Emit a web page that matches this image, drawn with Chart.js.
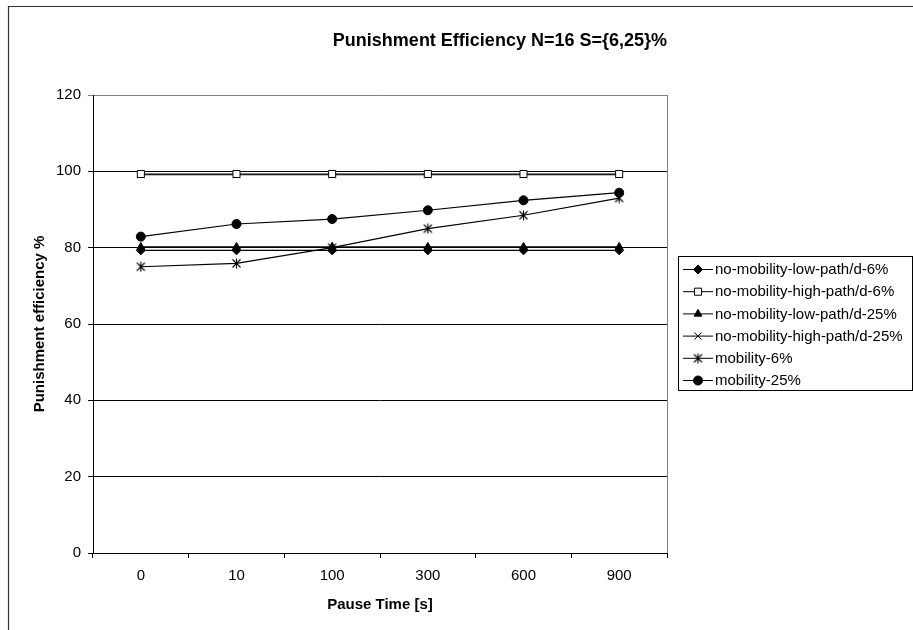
<!DOCTYPE html>
<html>
<head>
<meta charset="utf-8">
<title>Punishment Efficiency</title>
<script src="https://cdn.jsdelivr.net/npm/chart.js@4.4.0/dist/chart.umd.min.js"></script>
<style>
  html, body { margin: 0; padding: 0; background: #fff; overflow: hidden; }
  #wrap { width: 913px; height: 630px; }
</style>
</head>
<body>
<div id="wrap"><canvas id="effChart" width="913" height="630"></canvas></div>
<script>
var pauseTimes = ["0", "10", "100", "300", "600", "900"];
var yTicks = [0, 20, 40, 60, 80, 100, 120];

var lowPath6 = [79.3, 79.3, 79.3, 79.3, 79.3, 79.3];
var highPath6 = [99.3, 99.3, 99.3, 99.3, 99.3, 99.3];
var lowPath25 = [80.2, 80.2, 80.2, 80.2, 80.2, 80.2];
var highPath25 = [99.1, 99.1, 99.1, 99.1, 99.1, 99.1];
var mobility6 = [75, 75.9, 80, 85, 88.5, 93];
var mobility25 = [82.9, 86.2, 87.5, 89.8, 92.4, 94.4];

var FONT = "'Liberation Sans', Arial, sans-serif";

// excel style asterisk: an X with a vertical bar
function asterisk() {
    var cv = document.createElement("canvas");
    cv.width = 11; cv.height = 11;
    var g = cv.getContext("2d");
    g.strokeStyle = "#000";
    g.lineWidth = 1.1;
    g.beginPath();
    g.moveTo(1.5, 1.5); g.lineTo(9.5, 9.5);
    g.moveTo(9.5, 1.5); g.lineTo(1.5, 9.5);
    g.moveTo(5.5, 0.5); g.lineTo(5.5, 10.5);
    g.stroke();
    return cv;
}

function series(label, data, style, radius, fill) {
    return {
        label: label,
        data: data,
        borderColor: "#000",
        borderWidth: 1.2,
        backgroundColor: fill,
        pointStyle: style,
        pointRadius: radius,
        pointHoverRadius: radius,
        pointBackgroundColor: fill,
        pointBorderColor: "#000",
        pointBorderWidth: 1,
        tension: 0,
        fill: false
    };
}

var datasets = [
    series("no-mobility-low-path/d-6%", lowPath6, "rectRot", 4.5, "#000"),
    series("no-mobility-high-path/d-6%", highPath6, "rect", 5, "#fff"),
    series("no-mobility-low-path/d-25%", lowPath25, "triangle", 4.5, "#000"),
    series("no-mobility-high-path/d-25%", highPath25, "crossRot", 5, "#000"),
    series("mobility-6%", mobility6, asterisk(), 5, "#000"),
    series("mobility-25%", mobility25, "circle", 4.5, "#000")
];

// outer frame, right border of the plot, legend box
var decorations = {
    id: "decorations",
    beforeDraw: function (chart) {
        var c = chart.ctx;
        c.save();
        c.strokeStyle = "#333";
        c.lineWidth = 1.2;
        c.beginPath();
        c.moveTo(8.5, 640);
        c.lineTo(8.5, 6.5);
        c.lineTo(920, 6.5);
        c.stroke();
        c.restore();
    },
    afterDraw: function (chart) {
        var c = chart.ctx, a = chart.chartArea;
        c.save();
        c.strokeStyle = "#808080";
        c.lineWidth = 1;
        c.beginPath();
        c.moveTo(Math.round(a.right) + 0.5, a.top);
        c.lineTo(Math.round(a.right) + 0.5, a.bottom);
        c.stroke();

        var bx = 678.5, by = 256.5, bw = 234, bh = 134;
        c.fillStyle = "#fff";
        c.fillRect(bx, by, bw, bh);
        c.strokeStyle = "#000";
        c.strokeRect(bx, by, bw, bh);
        c.font = "15px " + FONT;
        c.textBaseline = "middle";
        c.textAlign = "left";
        chart.data.datasets.forEach(function (ds, i) {
            var y = 269 + i * 22.2;
            c.strokeStyle = "#000";
            c.lineWidth = 1;
            c.beginPath();
            c.moveTo(683, y + 0.5);
            c.lineTo(713, y + 0.5);
            c.stroke();
            c.fillStyle = ds.pointBackgroundColor;
            c.strokeStyle = "#000";
            Chart.helpers.drawPoint(c, {
                pointStyle: ds.pointStyle,
                radius: ds.pointRadius,
                rotation: 0,
                borderWidth: 1
            }, 698, y + 0.5);
            c.fillStyle = "#000";
            c.fillText(ds.label, 715, y + 1);
        });
        c.restore();
    }
};

var ctx = document.getElementById("effChart").getContext("2d");
new Chart(ctx, {
    type: "line",
    data: { labels: pauseTimes, datasets: datasets },
    options: {
        responsive: false,
        animation: false,
        layout: { padding: { left: 0, right: 246, top: 0, bottom: 0 } },
        plugins: {
            legend: { display: false },
            tooltip: { enabled: false },
            title: {
                display: true,
                fullSize: false,
                align: "end",
                text: "Punishment Efficiency N=16 S={6,25}%",
                color: "#000",
                font: { family: FONT, size: 18, weight: "bold", lineHeight: 1.2 },
                padding: { top: 30.2, bottom: 43.2 }
            }
        },
        scales: {
            x: {
                offset: true,
                afterFit: function (s) { s.height = 77; },
                grid: {
                    offset: true,
                    drawOnChartArea: false,
                    drawTicks: true,
                    tickLength: 5,
                    color: "#000"
                },
                border: { color: "#000", width: 1 },
                ticks: {
                    color: "#000",
                    padding: 9,
                    maxRotation: 0,
                    font: { family: FONT, size: 15 }
                },
                title: {
                    display: true,
                    text: "Pause Time [s]",
                    color: "#000",
                    font: { family: FONT, size: 15, weight: "bold", lineHeight: 1.2 },
                    padding: { top: 0, bottom: 16 }
                }
            },
            y: {
                min: yTicks[0],
                max: yTicks[yTicks.length - 1],
                afterFit: function (s) { s.width = 93; },
                afterBuildTicks: function (s) {
                    s.ticks = yTicks.map(function (v) { return { value: v }; });
                },
                grid: {
                    tickLength: 5,
                    color: function (c) {
                        return c.tick && c.tick.value === 120 ? "#808080" : "#000";
                    }
                },
                border: { color: "#000", width: 1 },
                ticks: {
                    color: "#000",
                    padding: 7,
                    font: { family: FONT, size: 15 }
                },
                title: {
                    display: true,
                    text: "Punishment efficiency %",
                    color: "#000",
                    font: { family: FONT, size: 15, weight: "bold", lineHeight: 1.2 },
                    padding: { top: 31, bottom: 0 }
                }
            }
        }
    },
    plugins: [decorations]
});
</script>
</body>
</html>
